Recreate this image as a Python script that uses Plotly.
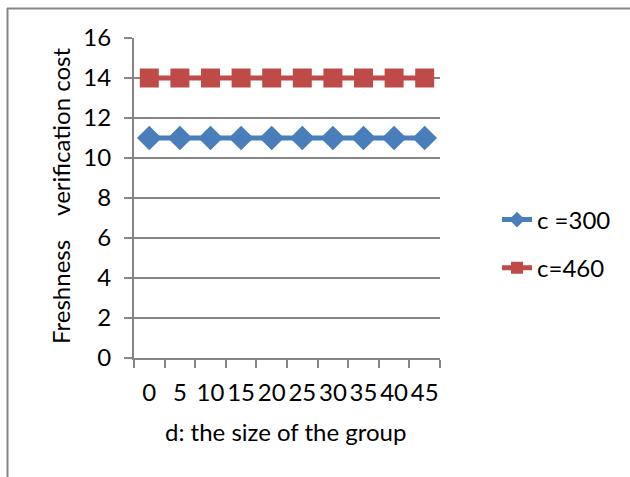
import plotly.graph_objects as go

categories = ["0", "5", "10", "15", "20", "25", "30", "35", "40", "45"]
c300 = [11, 11, 11, 11, 11, 11, 11, 11, 11, 11]
c460 = [14, 14, 14, 14, 14, 14, 14, 14, 14, 14]
y_ticks = [0, 2, 4, 6, 8, 10, 12, 14, 16]

W, H = 630, 477
L, R, T, B = 134, 190, 38, 119
FONT = "Lato"
FS = 24

fig = go.Figure()
fig.add_trace(go.Scatter(x=categories, y=c300, name="c =300", mode="lines+markers",
                         legendgroup="a",
                         line=dict(color="#4A7EBB", width=5),
                         marker=dict(symbol="diamond", size=19, color="#4A7EBB")))
fig.add_trace(go.Scatter(x=categories, y=c460, name="c=460", mode="lines+markers",
                         legendgroup="b",
                         line=dict(color="#BE4B48", width=5),
                         marker=dict(symbol="square", size=19, color="#BE4B48")))

pw = W - L - R
ph = H - T - B
def px(xp):
    return (xp - L) / pw
def py(yp):
    return (H - B - yp) / ph

fig.update_layout(
    width=W, height=H,
    margin=dict(l=L, r=R, t=T, b=B),
    paper_bgcolor="white", plot_bgcolor="white",
    font=dict(family=FONT, size=FS, color="#000000"),
    showlegend=True,
    legend=dict(x=px(497), y=py(244), xanchor="left", yanchor="middle",
                font=dict(size=FS), tracegroupgap=14, itemsizing="constant",
                bgcolor="rgba(0,0,0,0)"),
    xaxis=dict(type="category", tickson="boundaries", ticks="outside", ticklen=8,
               tickcolor="#868686", tickwidth=2, showline=True, linecolor="#868686",
               linewidth=2, showgrid=False, zeroline=False, tickangle=0,
               ticklabelstandoff=12,
               tickfont=dict(size=FS), range=[-0.5, 9.5]),
    yaxis=dict(range=[0, 16], tickvals=y_ticks, ticks="outside", ticklen=8,
               tickcolor="#868686", tickwidth=2, showline=True, linecolor="#868686",
               linewidth=2, showgrid=True, gridcolor="#868686", gridwidth=2,
               zeroline=False, ticklabelstandoff=8, tickfont=dict(size=FS)),
    annotations=[
        dict(text="d: the size of the group", x=px(285), y=py(431), xref="paper", yref="paper",
             showarrow=False, font=dict(size=FS), xanchor="center", yanchor="middle"),
        dict(text="Freshness\u00a0\u00a0\u00a0\u00a0verification cost", x=px(60), y=py(196),
             xref="paper", yref="paper", showarrow=False, textangle=-90,
             font=dict(size=FS), xanchor="center", yanchor="middle"),
    ],
    shapes=[
        dict(type="line", xref="paper", yref="paper", x0=px(7.5), x1=px(7.5), y0=py(8), y1=py(477),
             line=dict(color="#868686", width=2)),
        dict(type="line", xref="paper", yref="paper", x0=px(7), x1=px(630), y0=py(8.5), y1=py(8.5),
             line=dict(color="#868686", width=2)),
    ],
)

fig.write_html("out.html")
